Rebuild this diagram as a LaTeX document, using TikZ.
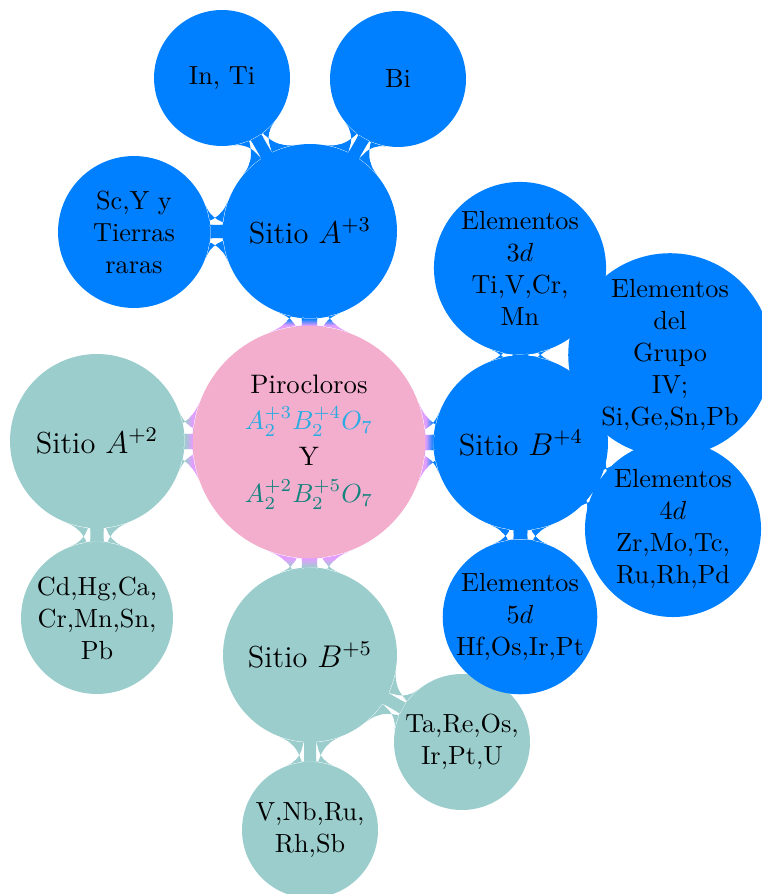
\documentclass[tikz,border=0pt]{standalone}
\usetikzlibrary{mindmap}
\pgfdeclarelayer{background}
\pgfsetlayers{background,main}
\definecolor{cBlue}{RGB}{0,128,255}
\definecolor{cTeal}{RGB}{155,205,205}
\definecolor{cPink}{RGB}{243,174,206}
\definecolor{cLilac}{RGB}{226,158,255}
\definecolor{cForm}{RGB}{41,171,226}
\definecolor{cForm2}{RGB}{20,130,125}
\tikzset{
  cpt/.style={circle, inner sep=0pt, align=center, font=\fontsize{10}{12.2}\selectfont, text=black},
  bluec/.style={cpt, fill=cBlue},
  tealc/.style={cpt, fill=cTeal},
  sitio/.style={font=\fontsize{11.6}{14}\selectfont},
}
\begin{document}
\begin{tikzpicture}[x=0.3817pt,y=-0.3817pt]
\useasboundingbox (0,0) rectangle (761,894);
% nodes
\node[cpt, fill=cPink, minimum size=88.6pt, font=\fontsize{10.2}{12.4}\selectfont] (root) at (309,442)
  {Pirocloros\\[1.5pt] \textcolor{cForm}{$A_2^{+3}B_2^{+4}O_7$}\\[1.5pt] Y\\[1.5pt] \textcolor{cForm2}{$A_2^{+2}B_2^{+5}O_7$}};
\node[bluec, sitio, minimum size=66.4pt] (A3) at (310,231) {Sitio $A^{+3}$};
\node[bluec, minimum size=51.9pt] (InTi) at (222,78) {In, Ti};
\node[bluec, minimum size=51.9pt] (Bi) at (398,79) {Bi};
\node[bluec, minimum size=58pt] (ScY) at (134,232) {Sc,Y y\\ Tierras\\ raras};
\node[tealc, sitio, minimum size=66.4pt] (A2) at (97,441) {Sitio $A^{+2}$};
\node[tealc, minimum size=58pt] (Cd) at (97,618) {Cd,Hg,Ca,\\ Cr,Mn,Sn,\\ Pb};
\node[tealc, sitio, minimum size=66.4pt] (B5) at (310,655) {Sitio $B^{+5}$};
\node[tealc, minimum size=51.9pt] (Ta) at (462,742) {Ta,Re,Os,\\ Ir,Pt,U};
\node[tealc, minimum size=51.9pt] (VNb) at (310,830) {V,Nb,Ru,\\ Rh,Sb};
\node[bluec, sitio, minimum size=66.4pt] (B4) at (521,443) {Sitio $B^{+4}$};
\node[bluec, minimum size=65.7pt] (E3) at (520,268) {Elementos\\ $3d$\\ Ti,V,Cr,\\ Mn};
\node[bluec, minimum size=73.3pt] (G4) at (670,355) {Elementos\\ del\\ Grupo\\ IV;\\ Si,Ge,Sn,Pb};
\node[bluec, minimum size=67.2pt] (E4) at (673,529) {Elementos\\ $4d$\\ Zr,Mo,Tc,\\ Ru,Rh,Pd};
\node[bluec, minimum size=58.8pt] (E5) at (520,617) {Elementos\\ $5d$\\ Hf,Os,Ir,Pt};
% bars
\begin{pgfonlayer}{background}
\path (root) to[circle connection bar switch color=from (cLilac) to (cBlue)] (A3);
\path (root) to[circle connection bar switch color=from (cLilac) to (cBlue)] (B4);
\path (root) to[circle connection bar switch color=from (cLilac) to (cTeal)] (A2);
\path (root) to[circle connection bar switch color=from (cLilac) to (cTeal)] (B5);
\path (A3) to[circle connection bar switch color=from (cBlue) to (cBlue)] (InTi);
\path (A3) to[circle connection bar switch color=from (cBlue) to (cBlue)] (Bi);
\path (A3) to[circle connection bar switch color=from (cBlue) to (cBlue)] (ScY);
\path (A2) to[circle connection bar switch color=from (cTeal) to (cTeal)] (Cd);
\path (B5) to[circle connection bar switch color=from (cTeal) to (cTeal)] (Ta);
\path (B5) to[circle connection bar switch color=from (cTeal) to (cTeal)] (VNb);
\path (B4) to[circle connection bar switch color=from (cBlue) to (cBlue)] (E3);
\path (B4) to[circle connection bar switch color=from (cBlue) to (cBlue)] (G4);
\path (B4) to[circle connection bar switch color=from (cBlue) to (cBlue)] (E4);
\path (B4) to[circle connection bar switch color=from (cBlue) to (cBlue)] (E5);
\end{pgfonlayer}
\end{tikzpicture}
\end{document}
